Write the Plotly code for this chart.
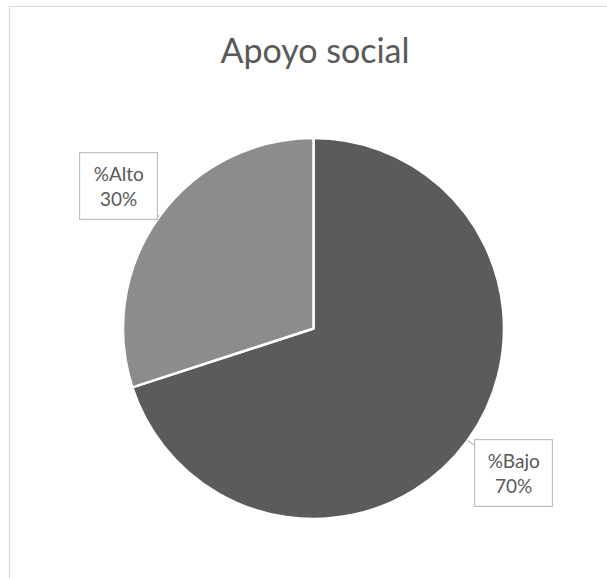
import math
import plotly.graph_objects as go

# Survey result: share of respondents by level of social support
labels = ["%Bajo", "%Alto"]
values = [70, 30]
colors = ["#5b5b5b", "#8c8c8c"]

W, H = 607, 578
# pie geometry in pixels (centre and radius)
cx, cy, r = 313.5, 328.5, 190.5

fig = go.Figure(go.Pie(
    labels=labels,
    values=values,
    sort=False,
    direction="clockwise",
    rotation=0,
    textinfo="none",
    hoverinfo="label+percent",
    marker=dict(colors=colors, line=dict(color="#ffffff", width=2.5)),
    domain=dict(x=[(cx - r) / W, (cx + r) / W],
                y=[1 - (cy + r) / H, 1 - (cy - r) / H]),
    showlegend=False,
))

# callout labels pointing at the middle of each slice
offsets = {"%Bajo": (46, 33), "%Alto": (-41, -31)}
total = sum(values)
cum = 0
annotations = []
for lab, val in zip(labels, values):
    mid = (cum + val / 2) / total * 2 * math.pi
    cum += val
    px = cx + r * math.sin(mid)
    py = cy - r * math.cos(mid)
    ax, ay = offsets[lab]
    pct = round(val / total * 100)
    annotations.append(dict(
        x=px / W, y=1 - py / H, xref="paper", yref="paper",
        text=f"{lab}<br>{pct}%",
        showarrow=True, arrowhead=0, arrowwidth=1.2, arrowcolor="#bfbfbf",
        ax=ax, ay=ay,
        font=dict(family="Lato, 'Open Sans', sans-serif", size=19, color="#595959"),
        bgcolor="#ffffff", bordercolor="#bfbfbf", borderwidth=1.2,
        width=75, height=64, align="center", valign="middle",
    ))

fig.update_layout(
    width=W, height=H,
    margin=dict(l=0, r=0, t=0, b=0),
    paper_bgcolor="#ffffff",
    title=dict(text="Apoyo social", x=315 / W, xanchor="center",
               y=1 - 51 / H, yanchor="middle",
               font=dict(family="Lato, 'Open Sans', sans-serif", size=34, color="#595959")),
    annotations=annotations,
    shapes=[dict(type="rect", xref="paper", yref="paper",
                 x0=9.5 / W, x1=1.05, y0=-0.05, y1=1 - 6.5 / H,
                 line=dict(color="#d9d9d9", width=1.2), layer="below")],
)

fig.write_html("out.html")
